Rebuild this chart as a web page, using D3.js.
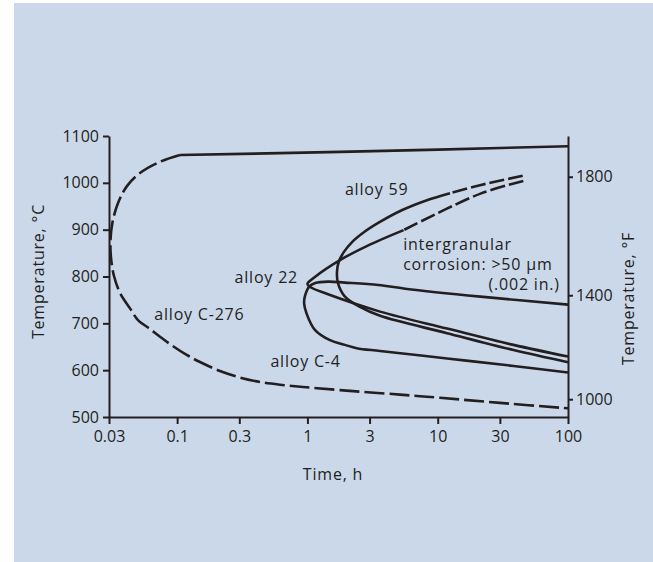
<!DOCTYPE html>
<html>
<head>
<meta charset="utf-8">
<script src="https://cdn.jsdelivr.net/npm/d3@7"></script>
<style>
  html, body { margin: 0; padding: 0; background: #fff; }
  svg { display: block; }
  text { font-family: "Open Sans", sans-serif; fill: #231f20; }
</style>
</head>
<body>
<svg id="chart" width="653" height="562"></svg>
<script>
// time axis (h, log) and temperature axis (°C)
const xTicks = [0.03, 0.1, 0.3, 1, 3, 10, 30, 100];
const xTickLabels = ["0.03", "0.1", "0.3", "1", "3", "10", "30", "100"];
const yTicks = [500, 600, 700, 800, 900, 1000, 1100];
// °F ticks, and the °C level where the source figure puts each one
const fTicks = [1000, 1400, 1800];
const fTickC = [538, 760, 1013];

// curves as [time h, temperature °C]
const c276Solid = [[0.1052, 1059.5], [1.78, 1066], [100, 1078]];
const c276Dashed = [[0.1052, 1059.5], [0.0739, 1045], [0.0519, 1021], [0.0412, 993], [0.0352, 957],
  [0.03191, 916], [0.03081, 878], [0.03108, 840], [0.03277, 801], [0.03644, 765], [0.04348, 732],
  [0.05008, 707], [0.0619, 688], [0.0739, 671.5], [0.0913, 652.7], [0.1184, 632.4], [0.1498, 617.4],
  [0.2133, 598.2], [0.3037, 584.3], [0.4324, 574.7], [0.6159, 568.8], [0.925, 564.1], [1.778, 557.4],
  [5.133, 547.8], [10.41, 541], [30.05, 530.1], [100, 518.6]];

const a22Dashed = [[45.4, 1004], [21.3, 977], [5.47, 899]];
const a22Solid = [[5.47, 899], [2.855, 865], [1.777, 835], [1.141, 799], [1.0, 784], [1.06, 777],
  [1.44, 762], [3.61, 725], [11.8, 689], [38.2, 654], [100, 629]];

const a59Dashed = [[44.9, 1015], [21.1, 995], [12.42, 978]];
const a59Solid = [[12.42, 978], [8.27, 963], [5.346, 942], [3.573, 916], [2.727, 895], [2.21, 874],
  [1.902, 852], [1.738, 831], [1.686, 810], [1.716, 786], [1.942, 757], [2.53, 735], [3.61, 716],
  [11.8, 679], [38.2, 643], [100, 617]];

const c4Solid = [[100, 740], [21.3, 757], [5.63, 774], [3.5, 782], [1.94, 787], [1.445, 789],
  [1.15, 786], [1.03, 778], [0.955, 757], [0.944, 742], [0.985, 721], [1.141, 686], [1.49, 664],
  [1.943, 654], [2.39, 647], [3.61, 641], [11.8, 625], [38.2, 609], [100, 595]];

const labels = [
  { text: "alloy 59", t: 1.94, c: 974 },
  { text: "alloy 22", t: 0.276, c: 786 },
  { text: "alloy C-276", t: 0.0668, c: 707 },
  { text: "alloy C-4", t: 0.52, c: 607 }
];
const noteLines = ["intergranular", "corrosion: >50 µm", "(.002 in.)"];
const noteAt = { t: 5.43, c: 856, endT: 86.5 };

const ink = "#231f20";
const svg = d3.select("#chart");

svg.append("rect")
  .attr("x", 14).attr("y", 3)
  .attr("width", 653 - 14).attr("height", 562 - 3)
  .attr("fill", "#cbd8ea");

const x = d3.scaleLog().domain([0.03, 100]).range([109, 568]);
const y = d3.scaleLinear().domain([500, 1100]).range([417, 136]);

const line = d3.line()
  .x(d => x(d[0]))
  .y(d => y(d[1]))
  .curve(d3.curveCatmullRom.alpha(0.5));

// axes
const styleAxis = g => {
  g.select(".domain").attr("stroke", ink).attr("stroke-width", 2);
  g.selectAll(".tick line").attr("stroke", ink).attr("stroke-width", 2);
  g.selectAll(".tick text")
    .attr("fill", ink)
    .attr("font-size", 16)
    .attr("font-family", "'Open Sans', sans-serif");
};

svg.append("g")
  .attr("transform", `translate(0,${y(500)})`)
  .call(d3.axisBottom(x).tickValues(xTicks)
    .tickFormat((d, i) => xTickLabels[i])
    .tickSize(7).tickPadding(7).tickSizeOuter(0))
  .call(styleAxis);

svg.append("g")
  .attr("transform", `translate(${x(0.03)},0)`)
  .call(d3.axisLeft(y).tickValues(yTicks)
    .tickFormat(d3.format("d"))
    .tickSize(6).tickPadding(4).tickSizeOuter(0))
  .call(styleAxis);

svg.append("g")
  .attr("transform", `translate(${x(100)},0)`)
  .call(d3.axisRight(y).tickValues(fTickC)
    .tickFormat((d, i) => fTicks[i])
    .tickSize(5).tickPadding(3).tickSizeOuter(0))
  .call(styleAxis);

// curves
const curves = svg.append("g")
  .attr("fill", "none")
  .attr("stroke", ink)
  .attr("stroke-width", 2.6)
  .attr("stroke-linecap", "butt");

[c276Solid, a22Solid, a59Solid, c4Solid].forEach(pts => {
  curves.append("path").attr("d", line(pts));
});

curves.append("path")
  .attr("d", line(c276Dashed))
  .attr("stroke-dasharray", "20,5");

[a22Dashed, a59Dashed].forEach(pts => {
  curves.append("path")
    .attr("d", line(pts))
    .attr("stroke-dasharray", "15,4");
});

// annotations
svg.append("g")
  .selectAll("text")
  .data(labels)
  .join("text")
  .attr("x", d => x(d.t))
  .attr("y", d => y(d.c))
  .attr("font-size", 16)
  .attr("letter-spacing", 0.8)
  .text(d => d.text);

const note = svg.append("text")
  .attr("font-size", 16)
  .attr("letter-spacing", 0.8);
noteLines.forEach((s, i) => {
  const last = i === noteLines.length - 1;
  note.append("tspan")
    .attr("x", last ? x(noteAt.endT) : x(noteAt.t))
    .attr("y", y(noteAt.c) + i * 20)
    .attr("text-anchor", last ? "end" : "start")
    .text(s);
});

// axis titles
svg.append("text")
  .attr("transform", "translate(44,271.5) rotate(-90)")
  .attr("text-anchor", "middle")
  .attr("font-size", 16)
  .attr("letter-spacing", 0.8)
  .text("Temperature, °C");

svg.append("text")
  .attr("transform", "translate(634,298.5) rotate(-90)")
  .attr("text-anchor", "middle")
  .attr("font-size", 16)
  .attr("letter-spacing", 0.8)
  .text("Temperature, °F");

svg.append("text")
  .attr("x", 333)
  .attr("y", 480)
  .attr("text-anchor", "middle")
  .attr("font-size", 16)
  .attr("letter-spacing", 0.8)
  .text("Time, h");
</script>
</body>
</html>
